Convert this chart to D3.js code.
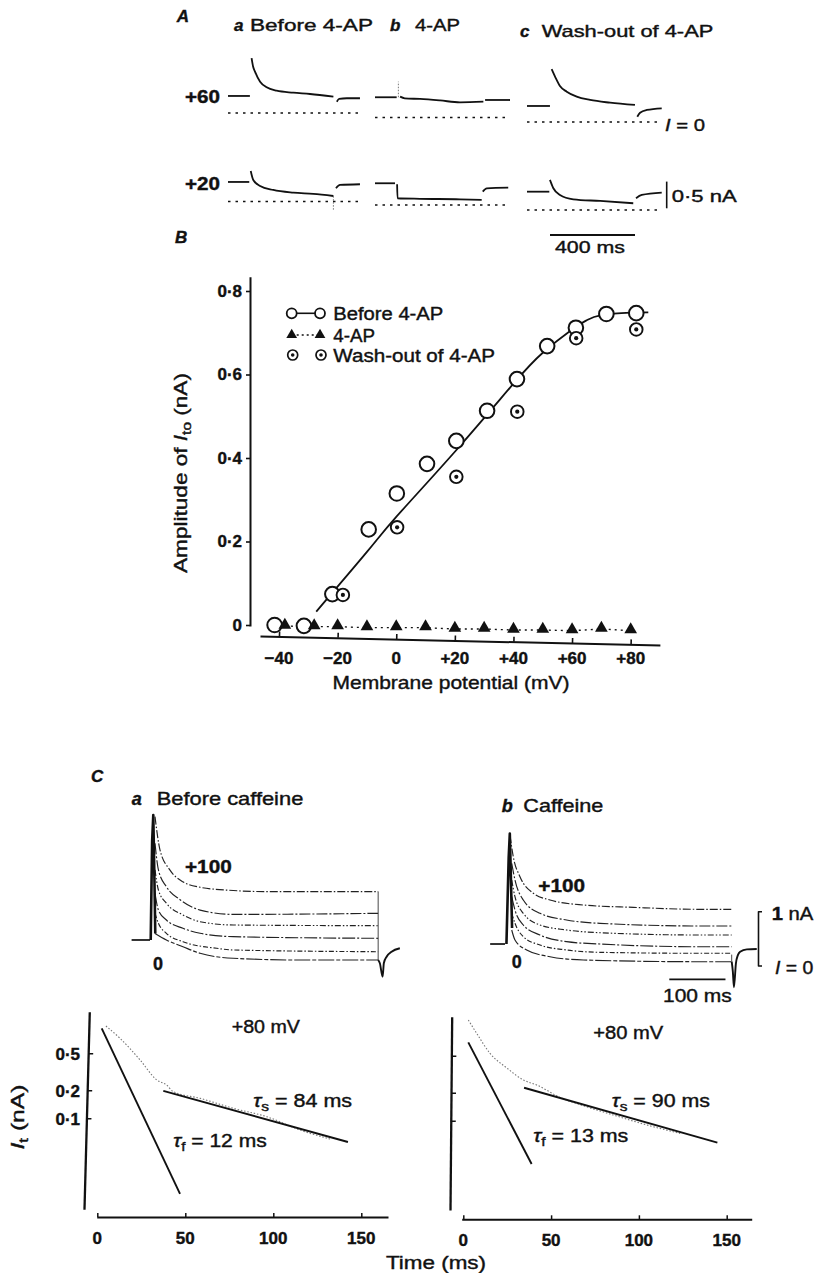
<!DOCTYPE html>
<html>
<head>
<meta charset="utf-8">
<script src="https://cdn.jsdelivr.net/npm/d3@7"></script>
<style>
  body { margin: 0; background: #fff; }
  svg { display: block; font-family: "Liberation Sans", Arial, sans-serif; }
  svg text { stroke: #111; stroke-width: 0.4px; paint-order: stroke; }
</style>
</head>
<body>
<svg id="fig" width="817" height="1273"></svg>
<script>
// ---------- data ----------

// Panel A: each trace = [holding, pulse, tail] segments of [time ms, current nA]
const a60Before = [[[0, 0.319], [103, 0.319]],
  [[111, 1.026], [118, 0.87], [127, 0.775], [151, 0.587], [182, 0.482], [229, 0.418], [307, 0.381], [386, 0.356], [496, 0.306]],
  [[512, 0.212], [523, 0.263], [559, 0.276], [621, 0.276]]];
const a60AP = [[[0, 0.379], [102, 0.379]],
  [[118, 0.39], [140, 0.36], [212, 0.347], [306, 0.319], [400, 0.285], [510, 0.296]],
  [[518, 0.328], [635, 0.328]]];
const a60Wash = [[[0, 0.30], [108, 0.30]],
  [[116, 0.989], [132, 0.85], [155, 0.675], [187, 0.568], [234, 0.475], [297, 0.413], [391, 0.362], [508, 0.319]],
  [[519, 0.099], [532, 0.174], [564, 0.225], [634, 0.257]]];
const a20Before = [[[0, 0.366], [100, 0.366]],
  [[107, 0.572], [119, 0.403], [151, 0.291], [213, 0.216], [307, 0.165], [401, 0.141], [496, 0.103]],
  [[508, 0.248], [527, 0.31], [621, 0.323]]];
const a20AP = [[[0, 0.407], [94, 0.407]],
  [[104, 0.39], [106, 0.126], [212, 0.116], [400, 0.107], [502, 0.094]],
  [[507, 0.25], [526, 0.313], [627, 0.325]]];
const a20Wash = [[[0, 0.343], [105, 0.343]],
  [[108, 0.563], [124, 0.407], [155, 0.281], [218, 0.2], [344, 0.169], [500, 0.126]],
  [[513, 0.22], [540, 0.281], [634, 0.325]]];
const a60APspike = [[110, 0.38], [110, 0.672]];
const a20BeforeArtefact = [[496, 0.1], [496, -0.16]];

// Panel B: amplitude of Ito (nA) against membrane potential (mV)
const vBefore = [-41.5, -31.5, -21.8, -9.4, 0.2, 10.5, 20.5, 31, 41.2, 51.5, 61.3, 71.7, 81.9];
const iBefore = [0, -0.002, 0.074, 0.229, 0.315, 0.386, 0.441, 0.513, 0.589, 0.668, 0.712, 0.745, 0.747];
const v4AP = [-38, -28, -20, -10, 0, 10, 20, 30, 40, 50, 60, 70, 80];
const i4AP = [-0.0024, -0.004, -0.004, -0.0064, -0.0064, -0.0064, -0.0096, -0.0096, -0.012, -0.012, -0.0136, -0.0096, -0.0136];
const vWash = [-18.2, 0.3, 20.5, 41.3, 61.4, 81.9];
const iWash = [0.072, 0.234, 0.355, 0.511, 0.687, 0.708];
const vFit = [-27.3, -10, 0, 20, 40, 50, 60, 65, 70, 80, 86];
const iFit = [0.032, 0.175, 0.259, 0.415, 0.578, 0.652, 0.708, 0.73, 0.742, 0.748, 0.749];
const bYTicks = [0, 0.2, 0.4, 0.6, 0.8];
const bXTicks = [-40, -20, 0, 20, 40, 60, 80];
const bLegend = ["Before 4-AP", "4-AP", "Wash-out of 4-AP"];

// Panel C: superimposed currents, 0 to +100 mV (top trace = +100), [time ms, nA]
const cBeforeHold = [[-34, 0.479], [-1.7, 0.479]];
const cBeforeSpike = [[-0.5, 0.48], [2, 2.3], [4, 2.78], [6, 1.6], [7.5, 0.6]];
const cBefore = [
  [[7, 2.75], [15.7, 2.14], [33, 1.77], [56, 1.55], [86, 1.45], [144, 1.39], [202, 1.37], [398, 1.37]],
  [[7, 2.26], [13, 1.77], [27, 1.46], [51, 1.22], [86, 1.03], [144, 0.95], [398, 0.97]],
  [[7, 1.77], [13, 1.40], [27, 1.155], [56, 0.94], [86, 0.816], [144, 0.755], [398, 0.742]],
  [[7, 1.34], [13, 1.03], [27, 0.847], [56, 0.694], [86, 0.602], [144, 0.54], [398, 0.51]],
  [[7, 0.97], [13, 0.786], [27, 0.602], [56, 0.448], [115, 0.326], [144, 0.295], [398, 0.263]],
  [[7, 0.6], [27, 0.48], [56, 0.355], [86, 0.234], [144, 0.142], [260, 0.11], [398, 0.11]]
];
const cBeforeEnd = [[398, 1.37], [398, 0.11]];
const cBeforeTail = [[398, 0.11], [401, 0.05], [405.8, -0.197], [408, 0.055], [412.8, 0.171], [421.5, 0.263], [436, 0.326]];

const cCaffHold = [[-30, 0.405], [-3.6, 0.405]];
const cCaffSpike = [[-1, 0.405], [3, 2.0], [5, 2.44], [7, 1.6], [9, 0.7]];
const cCaff = [
  [[5.3, 2.41], [11.2, 2.01], [23.1, 1.645], [46.8, 1.34], [76.5, 1.215], [136, 1.123], [225, 1.08], [343, 1.044], [400, 1.044]],
  [[8.4, 1.89], [14.2, 1.584], [29, 1.215], [58.7, 0.97], [106, 0.847], [165.5, 0.786], [343, 0.737], [400, 0.737]],
  [[8.4, 1.584], [14.2, 1.276], [29, 0.97], [58.7, 0.755], [106, 0.663], [165.5, 0.613], [343, 0.571], [400, 0.571]],
  [[8.4, 1.276], [14.2, 1.03], [29, 0.755], [58.7, 0.571], [106, 0.448], [165.5, 0.405], [343, 0.355], [400, 0.355]],
  [[8.4, 0.97], [14.2, 0.786], [29, 0.54], [58.7, 0.387], [106, 0.295], [165.5, 0.252], [343, 0.234], [400, 0.234]],
  [[8.4, 0.663], [14.2, 0.479], [35, 0.295], [76.5, 0.171], [136, 0.11], [343, 0.079], [400, 0.079]]
];
const cCaffEnd = [[400, 0.21], [400, 0.079]];
const cCaffTail = [[400, 0.079], [402, -0.1], [404, -0.39], [407.5, 0.05], [411, 0.2], [415, 0.263], [427, 0.307], [444.6, 0.313]];

// Panel C semilog plots at +80 mV: [time ms, nA]
const logData1 = [[4.9, 0.982], [12.9, 0.725], [24.3, 0.424], [33.8, 0.258], [39.4, 0.228], [43.2, 0.193], [58.4, 0.164], [77.3, 0.128], [96.3, 0.104], [115.2, 0.0748], [132.2, 0.0599]];
const logFast1 = [[2.5, 0.928], [47, 0.0154]];
const logSlow1 = [[37.5, 0.197], [142.4, 0.0556]];
const logData2 = [[2.85, 1.21], [7.6, 0.871], [15.2, 0.53], [24.7, 0.37], [34.2, 0.274], [41.8, 0.242], [55.1, 0.178], [70.3, 0.141], [85.5, 0.115], [104.5, 0.09], [123.5, 0.073]];
const logFast2 = [[2.85, 0.696], [38.9, 0.0342]];
const logSlow2 = [[34.6, 0.226], [144.7, 0.058]];
const logYTicks = [0.1, 0.2, 0.5];
const logXTicks = [0, 50, 100, 150];

// ---------- helpers ----------
const svg = d3.select("#fig");
const ink = "#111";

function put(g, o) {
  const t = g.append("text")
    .attr("x", o.x).attr("y", o.y)
    .attr("font-size", o.size || 17)
    .attr("font-weight", o.weight || "normal")
    .attr("font-style", o.italic ? "italic" : "normal")
    .attr("text-anchor", o.anchor || "start")
    .attr("fill", ink);
  if (o.len) t.attr("textLength", o.len).attr("lengthAdjust", "spacingAndGlyphs");
  if (o.rotate) t.attr("transform", `rotate(${o.rotate},${o.x},${o.y})`);
  t.html(o.html);
  return t;
}

function stroke(p, w, dash, col) {
  return p.attr("fill", "none").attr("stroke", col || ink).attr("stroke-width", w)
    .attr("stroke-dasharray", dash || null).attr("stroke-linejoin", "round");
}

const sub = (s) => `<tspan font-size="13" dy="4">${s}</tspan>`;

// ---------- Panel A ----------
const gA = svg.append("g");
const colX = { a: 228, b: 375, c: 527 };
const zeroY = { p60: { a: 113, b: 117.5, c: 122 }, p20: { a: 201.5, b: 205, c: 210 } };
const aTraces = [
  { row: "p60", col: "a", segs: a60Before },
  { row: "p60", col: "b", segs: a60AP, extra: a60APspike },
  { row: "p60", col: "c", segs: a60Wash },
  { row: "p20", col: "a", segs: a20Before, extra: a20BeforeArtefact },
  { row: "p20", col: "b", segs: a20AP },
  { row: "p20", col: "c", segs: a20Wash }
];
let aLast;
aTraces.forEach((tr) => {
  const x = d3.scaleLinear([0, 400], [colX[tr.col], colX[tr.col] + 85]);
  const y = d3.scaleLinear([0, 0.5], [zeroY[tr.row][tr.col], zeroY[tr.row][tr.col] - 26.7]);
  const line = d3.line().x((d) => x(d[0])).y((d) => y(d[1])).curve(d3.curveMonotoneX);
  const tail = tr.segs[2];
  const tEnd = tail[tail.length - 1][0];
  stroke(gA.append("path").attr("d", line([[0, 0], [tEnd, 0]])), 1.3, "2.5,5");
  tr.segs.forEach((s) => stroke(gA.append("path").attr("d", line(s)), 1.8));
  if (tr.extra) stroke(gA.append("path").attr("d", d3.line().x((d) => x(d[0])).y((d) => y(d[1]))(tr.extra)), 0.8, "1.5,1.5", "#555");
  aLast = { x, y };
});
// scale bars (0.5 nA, 400 ms)
stroke(gA.append("path").attr("d", `M666.7,208.3V${208.3 - (aLast.y(0) - aLast.y(0.5))}`), 1.6);
stroke(gA.append("path").attr("d", `M550,235H${550 + aLast.x(400) - aLast.x(0)}`), 1.8);

put(gA, { x: 176.7, y: 21.7, size: 17, weight: "bold", italic: true, html: "A" });
put(gA, { x: 234, y: 30.7, size: 17, weight: "bold", italic: true, html: "a" });
put(gA, { x: 250, y: 30.7, size: 17, len: 123, html: "Before 4-AP" });
put(gA, { x: 390, y: 30.7, size: 17, weight: "bold", italic: true, html: "b" });
put(gA, { x: 415, y: 30.7, size: 17, len: 45, html: "4-AP" });
put(gA, { x: 520, y: 37, size: 17, weight: "bold", italic: true, html: "c" });
put(gA, { x: 541.7, y: 37, size: 17, len: 171.6, html: "Wash-out of 4-AP" });
put(gA, { x: 185, y: 103.3, size: 18, weight: "bold", len: 35, html: "+60" });
put(gA, { x: 185, y: 190, size: 18, weight: "bold", len: 35, html: "+20" });
put(gA, { x: 665, y: 130.5, size: 17, len: 40, html: `<tspan font-style="italic">I</tspan> = 0` });
put(gA, { x: 671.7, y: 201.7, size: 17, len: 65, html: "0·5 nA" });
put(gA, { x: 555, y: 253, size: 17, len: 70, html: "400 ms" });
put(gA, { x: 175, y: 243, size: 17, weight: "bold", italic: true, html: "B" });

// ---------- Panel B ----------
const gB = svg.append("g");
const xB = d3.scaleLinear([-40, 80], [279, 630.7]);
const yB = d3.scaleLinear([0, 0.8], [625, 291]);
const fmtDot = (d) => (d === 0 ? "0" : d.toFixed(1).replace(".", "·"));
const fmtMv = (d) => (d > 0 ? "+" + d : d < 0 ? "\u2212" + -d : "0");

const yAx = gB.append("g").attr("transform", "translate(250,0)")
  .call(d3.axisLeft(yB.copy().domain([-0.0024, 0.834]).range([yB(-0.0024), yB(0.834)]))
    .tickValues(bYTicks).tickSizeInner(4).tickSizeOuter(0).tickPadding(4).tickFormat(fmtDot));
yAx.select(".domain").attr("stroke", ink).attr("stroke-width", 2);
yAx.selectAll(".tick line").attr("stroke", ink).attr("stroke-width", 1.6);
yAx.selectAll("text").attr("font-size", 17).attr("font-weight", "bold").attr("fill", ink)
  .attr("font-family", "Liberation Sans, Arial, sans-serif");

// slightly tilted x axis, ticks pointing up
const xAx = gB.append("g").attr("transform", "translate(0,636) rotate(1.29,260,0)")
  .call(d3.axisBottom(xB.copy().domain([xB.invert(260), xB.invert(660)]).range([260, 660]))
    .tickValues(bXTicks).tickSizeInner(-5).tickSizeOuter(0).tickFormat(""));
xAx.select(".domain").attr("stroke", ink).attr("stroke-width", 2);
xAx.selectAll(".tick line").attr("stroke", ink).attr("stroke-width", 1.6);
gB.selectAll("text.xt").data(bXTicks).join("text").attr("class", "xt")
  .attr("x", (d) => xB(d)).attr("y", 663.5).attr("text-anchor", "middle")
  .attr("font-size", 17).attr("font-weight", "bold").attr("fill", ink).text(fmtMv);

put(gB, { x: 451, y: 689, size: 19, anchor: "middle", len: 237, html: "Membrane potential (mV)" });
put(gB, { x: 186.5, y: 473, size: 19, anchor: "middle", rotate: -90, len: 200,
  html: `Amplitude of <tspan font-style="italic">I</tspan>${sub("to")}<tspan dy="-4"> (nA)</tspan>` });

// fit curve and 4-AP connecting line
stroke(gB.append("path").attr("d", d3.line().x((d, i) => xB(vFit[i])).y((d) => yB(d)).curve(d3.curveNatural)(iFit)), 1.8);
stroke(gB.append("path").attr("d", d3.line().x((d, i) => xB(v4AP[i])).y((d) => yB(d))(i4AP)), 1.4, "2,4");

const tri = d3.symbol(d3.symbolTriangle, 70);
const triSmall = d3.symbol(d3.symbolTriangle, 50);
gB.selectAll("circle.before").data(iBefore).join("circle").attr("class", "before")
  .attr("cx", (d, i) => xB(vBefore[i])).attr("cy", (d) => yB(d)).attr("r", 7.3)
  .attr("fill", "#fff").attr("stroke", ink).attr("stroke-width", 2);
gB.selectAll("g.wash").data(iWash).join("g").attr("class", "wash")
  .attr("transform", (d, i) => `translate(${xB(vWash[i])},${yB(d)})`)
  .each(function () {
    d3.select(this).append("circle").attr("r", 6.3).attr("fill", "#fff").attr("stroke", ink).attr("stroke-width", 1.9);
    d3.select(this).append("circle").attr("r", 2.1).attr("fill", ink);
  });
gB.selectAll("path.ap").data(i4AP).join("path").attr("class", "ap")
  .attr("d", tri).attr("fill", ink)
  .attr("transform", (d, i) => `translate(${xB(v4AP[i])},${yB(d) - 1})`);

// legend
const legY = [313.3, 335, 355];
const legX = [291.7, 320];
stroke(gB.append("path").attr("d", `M${legX[0]},${legY[0]}H${legX[1]}`), 1.6);
legX.forEach((lx) => gB.append("circle").attr("cx", lx).attr("cy", legY[0]).attr("r", 5)
  .attr("fill", "#fff").attr("stroke", ink).attr("stroke-width", 1.8));
stroke(gB.append("path").attr("d", `M${legX[0]},${legY[1]}H${legX[1]}`), 1.4, "2,3");
legX.forEach((lx) => gB.append("path").attr("d", triSmall).attr("fill", ink)
  .attr("transform", `translate(${lx},${legY[1]})`));
legX.forEach((lx) => {
  gB.append("circle").attr("cx", lx + 1).attr("cy", legY[2]).attr("r", 5).attr("fill", "#fff").attr("stroke", ink).attr("stroke-width", 1.7);
  gB.append("circle").attr("cx", lx + 1).attr("cy", legY[2]).attr("r", 1.8).attr("fill", ink);
});
const legLen = [110, 41.7, 161.7];
bLegend.forEach((s, i) => put(gB, { x: 333.3, y: legY[i] + 6.8, size: 18, len: legLen[i], html: s }));

// ---------- Panel C: current traces ----------
const gC = svg.append("g");
const yC = d3.scaleLinear([0, 1], [966, 911.7]);
const cDash = ["8,2,1.5,2", "11,2,2,2", "6,2,1.5,2,1.5,2", "13,2,2,2", "5,2,1.5,2", "16,2,4,2"];
const cPanels = [
  { x: d3.scaleLinear([0, 400], [151, 379.3]), hold: cBeforeHold, spike: cBeforeSpike, tr: cBefore, end: cBeforeEnd, tail: cBeforeTail },
  { x: d3.scaleLinear([0, 400], [507, 731.7]), hold: cCaffHold, spike: cCaffSpike, tr: cCaff, end: cCaffEnd, tail: cCaffTail }
];
cPanels.forEach((p) => {
  const line = d3.line().x((d) => p.x(d[0])).y((d) => yC(d[1]));
  const smooth = d3.line().x((d) => p.x(d[0])).y((d) => yC(d[1])).curve(d3.curveMonotoneX);
  p.tr.forEach((t, i) => stroke(gC.append("path").attr("d", smooth(t)), 1.15, cDash[i], "#222"));
  stroke(gC.append("path").attr("d", line(p.hold)), 1.7);
  stroke(gC.append("path").attr("d", line(p.spike)), 2.6);
  stroke(gC.append("path").attr("d", line(p.end)), 0.9, null, "#333");
  stroke(gC.append("path").attr("d", smooth(p.tail)), 1.9);
});
// 1 nA bracket and 100 ms bar
stroke(gC.append("path").attr("d", `M762,${yC(1)}H758.5V${yC(0)}H762`), 1.6);
const xCb = cPanels[1].x;
stroke(gC.append("path").attr("d", `M669.3,979.3H${669.3 + xCb(100) - xCb(0)}`), 1.7);

put(gC, { x: 91, y: 782, size: 17, weight: "bold", italic: true, html: "C" });
put(gC, { x: 131.7, y: 805, size: 18, weight: "bold", italic: true, html: "a" });
put(gC, { x: 156.7, y: 805, size: 18.5, len: 146.6, html: "Before caffeine" });
put(gC, { x: 501.7, y: 811.7, size: 18, weight: "bold", italic: true, html: "b" });
put(gC, { x: 523.3, y: 811.7, size: 18.5, len: 80, html: "Caffeine" });
put(gC, { x: 185, y: 873.3, size: 18, weight: "bold", len: 46.7, html: "+100" });
put(gC, { x: 538.3, y: 891.7, size: 18, weight: "bold", len: 46.7, html: "+100" });
put(gC, { x: 153, y: 970, size: 18, weight: "bold", html: "0" });
put(gC, { x: 511.7, y: 968, size: 18, weight: "bold", html: "0" });
put(gC, { x: 663, y: 1002, size: 18, len: 68.7, html: "100 ms" });
put(gC, { x: 771.7, y: 920, size: 18, len: 41.6, html: `<tspan font-weight="bold">1</tspan> nA` });
put(gC, { x: 775, y: 974.3, size: 18, len: 38.3, html: `<tspan font-style="italic">I</tspan> = 0` });

// ---------- Panel C: semilog plots ----------
const gL = svg.append("g");
const logPlots = [
  { x: d3.scaleLinear([0, 150], [97.3, 361.3]), y: d3.scaleLog([0.1, 1], [1118.3, 1025.3]),
    yTop: 1.40, yBot: 0.0105, axX: 84, skew: -1.536, xAxY: 1217, xEnd: [96.7, 388],
    data: logData1, fast: logFast1, slow: logSlow1 },
  { x: d3.scaleLinear([0, 150], [463.3, 726.7]), y: d3.scaleLog([0.1, 1], [1120.7, 1027.7]),
    yTop: 1.313, yBot: 0.01096, axX: 450, skew: -0.5, xAxY: 1219.3, xEnd: [461.7, 751.7],
    data: logData2, fast: logFast2, slow: logSlow2 }
];
logPlots.forEach((p) => {
  const line = d3.line().x((d) => p.x(d[0])).y((d) => p.y(d[1]));
  const yBase = p.y(p.yBot);
  const sk = Math.tan((p.skew * Math.PI) / 180);
  const yg = gL.append("g").attr("transform", `translate(${p.axX - sk * yBase},0) skewX(${p.skew})`)
    .call(d3.axisRight(p.y.copy().domain([p.yBot, p.yTop]).range([p.y(p.yBot), p.y(p.yTop)]))
      .tickValues(logYTicks).tickSizeInner(5).tickSizeOuter(0).tickFormat(""));
  yg.select(".domain").attr("stroke", ink).attr("stroke-width", 2.3);
  yg.selectAll(".tick line").attr("stroke", ink).attr("stroke-width", 1.5);

  const xg = gL.append("g").attr("transform", `translate(0,${p.xAxY})`)
    .call(d3.axisBottom(p.x.copy().domain([p.x.invert(p.xEnd[0]), p.x.invert(p.xEnd[1])]).range(p.xEnd))
      .tickValues(logXTicks).tickSizeInner(-4).tickSizeOuter(0).tickFormat(""));
  xg.select(".domain").attr("stroke", ink).attr("stroke-width", 2);
  xg.selectAll(".tick line").attr("stroke", ink).attr("stroke-width", 1.5);
  gL.append("g").selectAll("text").data(logXTicks).join("text")
    .attr("x", (d) => p.x(d)).attr("y", p.xAxY + 26.5).attr("text-anchor", "middle")
    .attr("font-size", 17).attr("font-weight", "bold").attr("fill", ink).text((d) => d);

  stroke(gL.append("path").attr("d", d3.line().x((d) => p.x(d[0])).y((d) => p.y(d[1])).curve(d3.curveMonotoneX)(p.data)), 1.1, "1.5,1.8", "#777");
  stroke(gL.append("path").attr("d", line(p.fast)), 1.9);
  stroke(gL.append("path").attr("d", line(p.slow)), 1.9);
});
const pl1 = logPlots[0];
gL.append("g").selectAll("text").data(logYTicks).join("text")
  .attr("x", 80).attr("y", (d) => pl1.y(d) + 6.5).attr("text-anchor", "end")
  .attr("font-size", 17).attr("font-weight", "bold").attr("fill", ink).text(fmtDot);

put(gL, { x: 24, y: 1117, size: 19, anchor: "middle", rotate: -90, len: 65,
  html: `<tspan font-style="italic">I</tspan>${sub("t")}<tspan dy="-4"> (nA)</tspan>` });
put(gL, { x: 231.7, y: 1033, size: 18, len: 68.3, html: "+80 mV" });
put(gL, { x: 593.3, y: 1039, size: 18, len: 70, html: "+80 mV" });
put(gL, { x: 173.3, y: 1146.7, size: 18, len: 93.4, html: `<tspan font-style="italic">τ</tspan>${sub("f")}<tspan dy="-4"> = 12 ms</tspan>` });
put(gL, { x: 253.3, y: 1106.7, size: 18, len: 98.7, html: `<tspan font-style="italic">τ</tspan>${sub("s")}<tspan dy="-4"> = 84 ms</tspan>` });
put(gL, { x: 611.7, y: 1106.7, size: 18, len: 98.3, html: `<tspan font-style="italic">τ</tspan>${sub("s")}<tspan dy="-4"> = 90 ms</tspan>` });
put(gL, { x: 533.3, y: 1141.7, size: 18, len: 95, html: `<tspan font-style="italic">τ</tspan>${sub("f")}<tspan dy="-4"> = 13 ms</tspan>` });
put(gL, { x: 436, y: 1269, size: 19, anchor: "middle", len: 100, html: "Time (ms)" });
</script>
</body>
</html>
